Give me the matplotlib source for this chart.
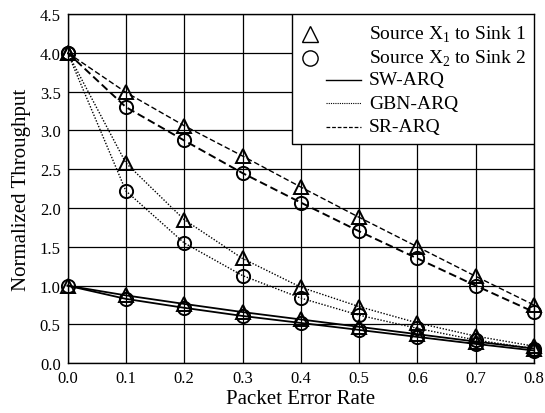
import matplotlib
matplotlib.use("Agg")
import matplotlib.pyplot as plt
from matplotlib.patches import Rectangle

plt.rcParams['font.family'] = ['Liberation Serif', 'DejaVu Serif']
plt.rcParams['mathtext.fontset'] = 'custom'
plt.rcParams['mathtext.rm'] = 'Liberation Serif'

per = [0.0, 0.1, 0.2, 0.3, 0.4, 0.5, 0.6, 0.7, 0.8]

sw_x1 = [1.0, 0.875, 0.765, 0.66, 0.565, 0.47, 0.375, 0.28, 0.19]
sw_x2 = [1.0, 0.83, 0.715, 0.61, 0.52, 0.43, 0.34, 0.25, 0.165]
gbn_x1 = [4.0, 2.58, 1.85, 1.35, 0.98, 0.73, 0.52, 0.35, 0.22]
gbn_x2 = [4.0, 2.22, 1.55, 1.13, 0.84, 0.62, 0.45, 0.30, 0.19]
sr_x1 = [4.0, 3.49, 3.06, 2.67, 2.27, 1.88, 1.50, 1.12, 0.75]
sr_x2 = [4.0, 3.30, 2.87, 2.45, 2.07, 1.70, 1.35, 1.00, 0.66]

xticks = [0.0, 0.1, 0.2, 0.3, 0.4, 0.5, 0.6, 0.7, 0.8]
yticks = [0.0, 0.5, 1.0, 1.5, 2.0, 2.5, 3.0, 3.5, 4.0, 4.5]

legend_labels = [r"Source X$_1$ to Sink 1", r"Source X$_2$ to Sink 2",
                 "SW-ARQ", "GBN-ARQ", "SR-ARQ"]

fig = plt.figure(figsize=(5.45, 4.14), dpi=100)
ax = fig.add_axes([0.124, 0.12, 0.856, 0.844])

dotted = (0, (1, 1.2))
dashed = (0, (4, 2))
mk = dict(markersize=9.5, markerfacecolor='none', markeredgecolor='black',
          markeredgewidth=1.4, clip_on=False, zorder=3)

ax.plot(per, sw_x1, color='black', lw=1.3, linestyle='-', marker='^', **mk)
ax.plot(per, sw_x2, color='black', lw=1.3, linestyle='-', marker='o', **mk)
ax.plot(per, gbn_x1, color='black', lw=1.0, linestyle=dotted, marker='^', **mk)
ax.plot(per, gbn_x2, color='black', lw=1.0, linestyle=dotted, marker='o', **mk)
ax.plot(per, sr_x1, color='black', lw=1.0, linestyle=dashed, marker='^', **mk)
ax.plot(per, sr_x2, color='black', lw=1.4, linestyle=dashed, marker='o', **mk)

ax.set_xlim(0, 0.8)
ax.set_ylim(0, 4.5)
ax.set_xticks(xticks)
ax.set_yticks(yticks)
ax.set_xticklabels([f"{v:.1f}" for v in xticks], fontsize=12)
ax.set_yticklabels([f"{v:.1f}" for v in yticks], fontsize=12)
ax.tick_params(length=0, pad=5)
ax.grid(True, color='black', lw=0.9)
ax.set_axisbelow(True)
for s in ax.spines.values():
    s.set_color('black')
    s.set_linewidth(1.0)

ax.set_xlabel("Packet Error Rate", fontsize=15, labelpad=2)
ax.set_ylabel("Normalized Throughput", fontsize=15, labelpad=6)

# manual legend (upper right)
ax.add_patch(Rectangle((0.482, 0.628), 0.518, 0.372, transform=ax.transAxes,
                       facecolor='white', edgecolor='black', lw=1.0, zorder=5))
rows = [0.943, 0.874, 0.811, 0.745, 0.677]
mx, lx0, lx1, tx = 0.519, 0.553, 0.628, 0.646
ax.plot([mx], [rows[0]], marker='^', linestyle='none', transform=ax.transAxes,
        zorder=6, clip_on=False, markersize=11, markerfacecolor='none',
        markeredgecolor='black', markeredgewidth=1.0)
ax.plot([mx], [rows[1]], marker='o', linestyle='none', transform=ax.transAxes,
        zorder=6, clip_on=False, markersize=11, markerfacecolor='none',
        markeredgecolor='black', markeredgewidth=1.0)
ax.plot([lx0, lx1], [rows[2]] * 2, color='black', lw=1.0, linestyle='-',
        transform=ax.transAxes, zorder=6)
ax.plot([lx0, lx1], [rows[3]] * 2, color='black', lw=0.8, linestyle=(0, (1, 1)),
        transform=ax.transAxes, zorder=6)
ax.plot([lx0, lx1], [rows[4]] * 2, color='black', lw=0.9, linestyle=(0, (3, 1.5)),
        transform=ax.transAxes, zorder=6)
for y, lab in zip(rows, legend_labels):
    ax.text(tx, y, lab, transform=ax.transAxes, fontsize=14, va='center',
            ha='left', zorder=7)

fig.savefig("out.png", dpi=100)
